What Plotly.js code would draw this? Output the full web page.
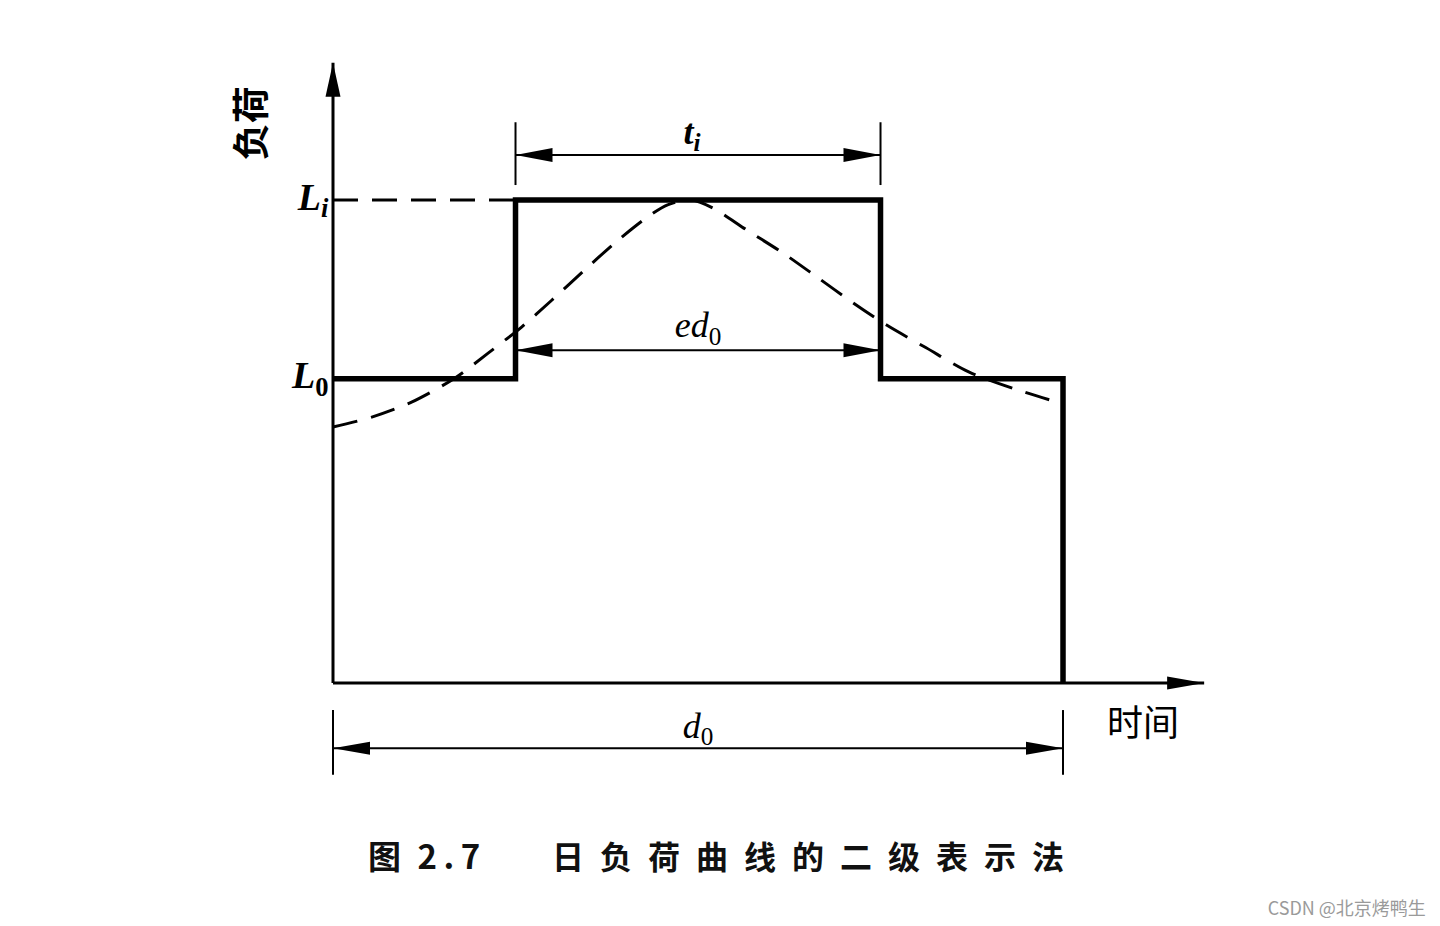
<!DOCTYPE html>
<html><head><meta charset="utf-8">
<script src="https://cdn.plot.ly/plotly-3.0.1.min.js"></script>
<style>html,body{margin:0;padding:0;background:#fff;}#chart{width:1440px;height:926px;}</style>
</head><body><div id="chart"></div>
<script>
// ---- data (time in hours, load in % of peak Li) ----
const dayLength = 24;            // d0
const stepTime = [0, 6, 6, 18, 18, 24, 24];
const stepLoad = [63, 63, 100, 100, 63, 63, 0];
const peakRefTime = [0, 6];
const peakRefLoad = [100, 100];
const curveTime = [0, 1.3, 2.6, 4.0, 5.1, 6.2, 7.2, 8.2, 9.3, 10.3, 11.0, 11.8, 12.5, 13.6, 14.8, 15.9, 17.1, 18.2, 19.5, 20.9, 22.5, 23.9];
const curveLoad = [53, 55.1, 58.2, 63.1, 68.3, 73.7, 79.3, 85.1, 91.3, 96.3, 99.0, 100, 98.3, 93.8, 89.0, 84.1, 78.7, 74.1, 69.4, 64.4, 60.7, 58.0];
const peakStart = 6, peakEnd = 18;
const levelNames = ['<i>L</i><sub><i>i</i></sub>', '<i>L</i><sub>0</sub>'];
const levelValues = [100, 63];
const yAxisLabel = '负荷';
const xAxisLabel = '时间';
const spanLabels = ['<i>t</i><sub><i>i</i></sub>', '<i>ed</i><sub>0</sub>', '<i>d</i><sub>0</sub>'];
const captionNo = '图 2.7';
const captionText = '日负荷曲线的二级表示法';
const watermark = 'CSDN @北京烤鸭生';

// ---- layout helpers ----
const axisTop = 128.4, axisRight = 28.64;
const tiLevel = 109.3, tiExtLow = 103.1, tiExtHigh = 116.1;
const edLevel = 68.9;
const d0Level = -13.5, d0ExtLow = -19.0, d0ExtHigh = -5.6;

function line(x, y, w, dash, shape) {
  const ln = {color: '#000', width: w, dash: dash || 'solid'};
  if (shape) { ln.shape = shape; ln.smoothing = 0.8; }
  return {type: 'scatter', mode: 'lines', x: x, y: y, hoverinfo: 'skip', line: ln};
}
function label(x, y, text, pos, family, size, color, weight) {
  return {type: 'scatter', mode: 'text', x: [x], y: [y], text: [text], textposition: pos,
    cliponaxis: false, hoverinfo: 'skip',
    textfont: {family: family, size: size, color: color || '#000', weight: weight || 'normal'}};
}
function head(xv, yv, dir, len, wid) {
  const h = wid / 2;
  let p;
  if (dir === 'r') p = `M0,0 L${-len},${h} L${-len},${-h} Z`;
  else if (dir === 'l') p = `M0,0 L${len},${h} L${len},${-h} Z`;
  else p = `M0,0 L${-h},${-len} L${h},${-len} Z`;
  return {type: 'path', xref: 'x', yref: 'y', xsizemode: 'pixel', ysizemode: 'pixel',
    xanchor: xv, yanchor: yv, path: p, fillcolor: '#000', line: {width: 0}};
}

const serif = 'Liberation Serif, DejaVu Serif, serif';
const cjk = 'Noto Sans CJK SC, sans-serif';

const traces = [
  line([0, axisRight], [0, 0], 3),
  line([0, 0], [0, axisTop], 3),
  line(peakRefTime, peakRefLoad, 3, '25px,14px'),
  line(curveTime, curveLoad, 3, '25px,14px', 'spline'),
  line(stepTime, stepLoad, 5.5),
  // dimension t_i
  line([peakStart, peakEnd], [tiLevel, tiLevel], 2),
  line([peakStart, peakStart], [tiExtLow, tiExtHigh], 2),
  line([peakEnd, peakEnd], [tiExtLow, tiExtHigh], 2),
  // dimension ed0
  line([peakStart, peakEnd], [edLevel, edLevel], 2),
  // dimension d0
  line([0, dayLength], [d0Level, d0Level], 2),
  line([0, 0], [d0ExtLow, d0ExtHigh], 2),
  line([dayLength, dayLength], [d0ExtLow, d0ExtHigh], 2),
  // labels
  label(-0.15, levelValues[0], levelNames[0], 'middle left', serif, 38, '#000', 'bold'),
  label(-0.15, levelValues[1], levelNames[1], 'middle left', serif, 38, '#000', 'bold'),
  label(26.63, -9.1, xAxisLabel, 'middle center', cjk, 36),
  label((peakStart + peakEnd) / 2 - 0.2, 113.5, spanLabels[0], 'middle center', serif, 36, '#000', 'bold'),
  label((peakStart + peakEnd) / 2, 73.5, spanLabels[1], 'middle center', serif, 36),
  label(dayLength / 2, -9.5, spanLabels[2], 'middle center', serif, 36),
  label(1.15, -36.8, captionNo.replace(' ', '\u2002').replace('.', '\u2009.\u2009'), 'middle right', cjk, 33, '#111', 'bold'),
  label(7.2, -36.8, captionText.split('').join('\u2002'), 'middle right', cjk, 32, '#111', 'bold'),
  label(35.93, -47.0, watermark, 'middle left', cjk, 18, '#9a9a9a')
];

const shapes = [
  head(axisRight, 0, 'r', 37, 13),
  head(0, axisTop, 'u', 34, 15),
  head(peakStart, tiLevel, 'l', 37, 14),
  head(peakEnd, tiLevel, 'r', 37, 14),
  head(peakStart, edLevel, 'l', 37, 14),
  head(peakEnd, edLevel, 'r', 37, 14),
  head(0, d0Level, 'l', 37, 13),
  head(dayLength, d0Level, 'r', 37, 13)
];

const annotations = [
  {x: -2.76, y: 115.9, text: yAxisLabel, textangle: -90, showarrow: false,
   font: {family: cjk, size: 37, color: '#000', weight: 'bold'}}
];

const layout = {
  width: 1440, height: 926,
  margin: {l: 0, r: 0, t: 0, b: 0},
  paper_bgcolor: '#fff', plot_bgcolor: '#fff',
  showlegend: false,
  xaxis: {range: [-10.948, 36.394], visible: false, fixedrange: true},
  yaxis: {range: [-50.31, 141.41], visible: false, fixedrange: true},
  shapes: shapes,
  annotations: annotations
};

Plotly.newPlot('chart', traces, layout, {displayModeBar: false, responsive: false});
</script>
</body></html>
